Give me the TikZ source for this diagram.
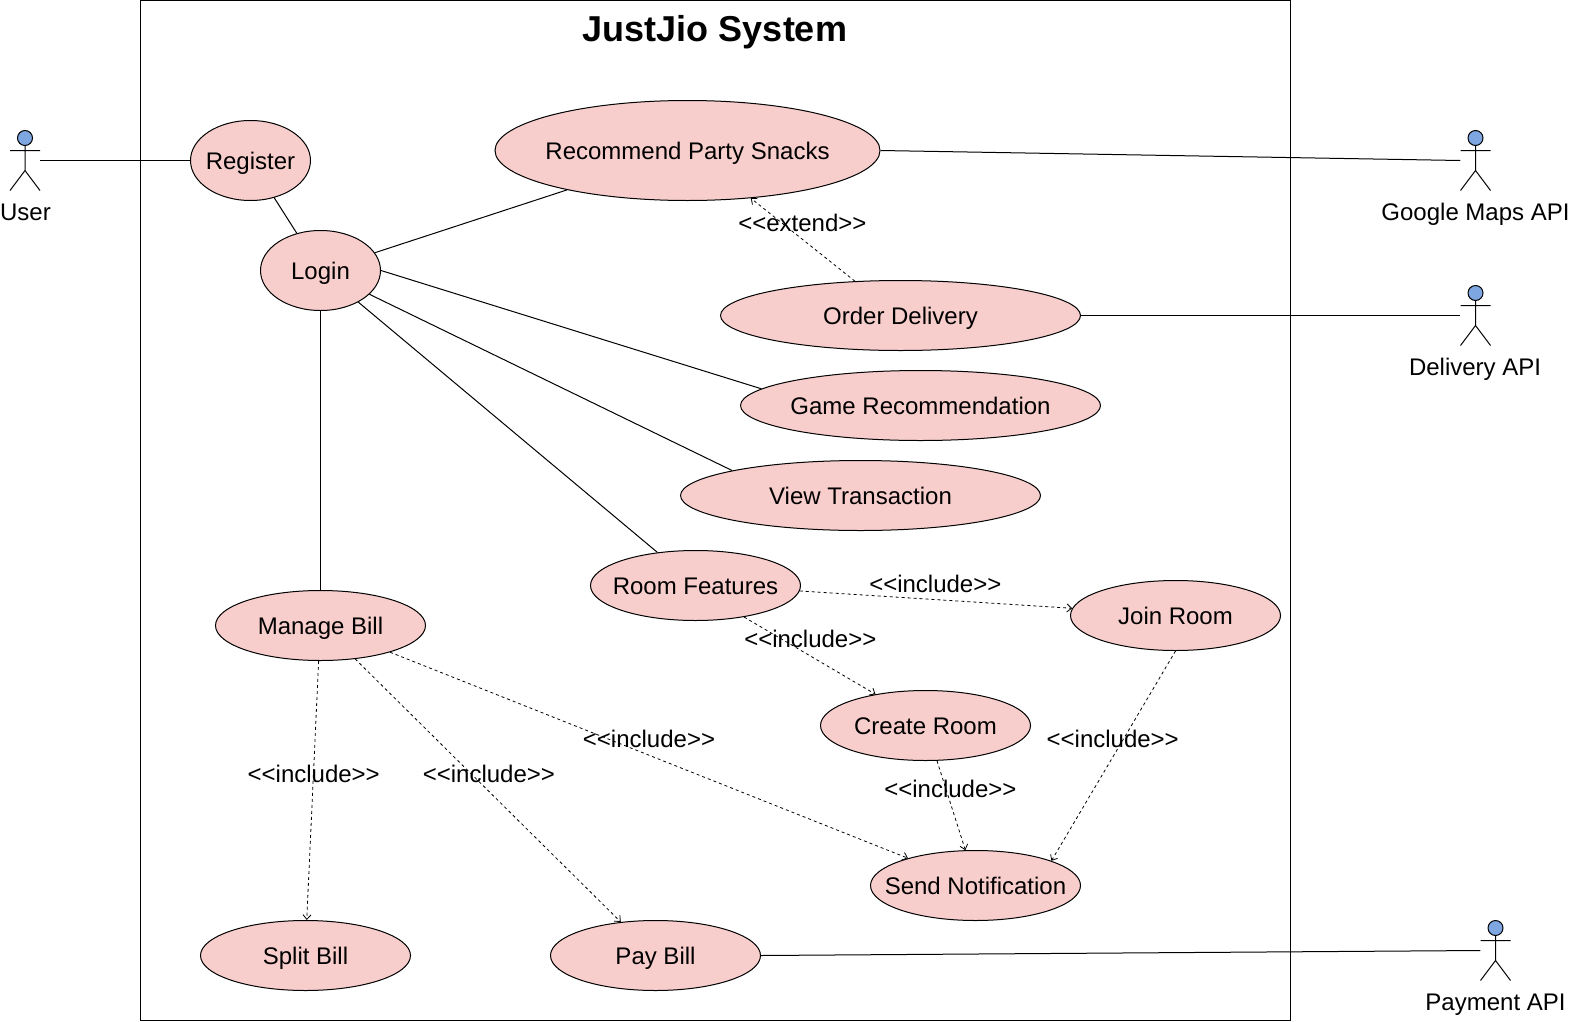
\documentclass[tikz,border=0pt]{standalone}
\usepackage{fontspec}
\setmainfont{Liberation Sans}
\usetikzlibrary{shapes.geometric, arrows.meta}

\definecolor{casefill}{HTML}{F8CECC}
\definecolor{headfill}{HTML}{7EA6E0}

\newcommand{\casetext}[1]{\makebox[0pt]{#1}}
\newcommand{\stereo}[1]{{<}{<}#1{>}{>}}

\tikzset{
    usecase/.style={ellipse, draw=black, fill=casefill, inner sep=0pt, line width=0.75pt,
        text height=13pt, text depth=0pt, font=\fontsize{18}{22}\selectfont},
    smallcase/.style={usecase, minimum width=157.5pt, minimum height=52.5pt},
    widecase/.style={usecase, minimum width=270pt, minimum height=52.5pt},
    logincase/.style={usecase, minimum width=90pt, minimum height=60pt},
    actorbox/.style={rectangle, inner sep=0pt, minimum width=22.5pt, minimum height=45pt},
    plaintext/.style={inner sep=0pt, text height=13pt, text depth=0pt, font=\fontsize{18}{22}\selectfont},
    assoc/.style={line width=0.75pt},
    dep/.style={-{Straight Barb[length=3.5pt,width=6pt]}, line width=0.6pt, dash pattern=on 2.25pt off 2.25pt},
    stick/.pic={
        \draw[line width=0.75pt, fill=headfill] (0,-22.5) circle[radius=7.5];
        \draw[line width=0.75pt] (0,-15) -- (0,10) (-15,-10) -- (15,-10) (-15,30) -- (0,10) -- (15,30);
    }
}

\begin{document}
\begin{tikzpicture}[x=0.75pt, y=-0.75pt]
            \useasboundingbox (0,0) rectangle (1570,1021);

            % System
            \node[draw, line width=0.75pt, inner sep=0pt, minimum width=862.5pt, minimum height=765pt] (system) at (715.5,510.5) {};
            \node[inner sep=0pt, text height=19.5pt, text depth=0pt, font=\fontsize{27}{32}\selectfont\bfseries] (title) at (715,28) {JustJio System};

            % Actors
            \node[actorbox] (user) at (25,160.5) {};
            \node[actorbox] (google) at (1475.5,160.5) {};
            \node[actorbox] (delivery) at (1475.5,315.5) {};
            \node[actorbox] (payment) at (1495.5,950.5) {};
            \pic at (user) {stick};
            \pic at (google) {stick};
            \pic at (delivery) {stick};
            \pic at (payment) {stick};
            \node[plaintext] (userlabel) at (25.5,212) {User};
            \node[plaintext] (googlelabel) at (1475.5,212) {Google Maps API};
            \node[plaintext] (deliverylabel) at (1475,367) {Delivery API};
            \node[plaintext] (paymentlabel) at (1495.5,1002) {Payment API};

            % Use cases
            \node[logincase] (register) at (250.5,160.5) {\casetext{Register}};
            \node[logincase] (login) at (320.5,270.5) {\casetext{Login}};
            \node[usecase, minimum width=288.75pt, minimum height=75pt] (snacks) at (687.5,150.5) {\casetext{Recommend Party Snacks}};
            \node[widecase] (order) at (900.5,315.5) {\casetext{Order Delivery}};
            \node[widecase] (game) at (920.5,405.5) {\casetext{Game Recommendation}};
            \node[widecase] (view) at (860.5,495.5) {\casetext{View Transaction}};
            \node[smallcase] (room) at (695.5,585.5) {\casetext{Room Features}};
            \node[smallcase] (manage) at (320.5,625.5) {\casetext{Manage Bill}};
            \node[smallcase] (join) at (1175.5,615.5) {\casetext{Join Room}};
            \node[smallcase] (create) at (925.5,725.5) {\casetext{Create Room}};
            \node[smallcase] (send) at (975.5,885.5) {\casetext{Send Notification}};
            \node[smallcase] (split) at (305.5,955.5) {\casetext{Split Bill}};
            \node[smallcase] (pay) at (655.5,955.5) {\casetext{Pay Bill}};

            % Associations
            \draw[assoc] (user.east) -- (register.west);
            \draw[assoc] (register) -- (login);
            \draw[assoc] (login) -- (snacks);
            \draw[assoc] (login.east) -- (game.174);
            \draw[assoc] (login) -- (view.169);
            \draw[assoc] (login) -- (room.139);
            \draw[assoc] (login.south) -- (manage.north);
            \draw[assoc] (snacks.east) -- (google.west);
            \draw[assoc] (order.east) -- (delivery.west);
            \draw[assoc] (pay.east) -- (payment.west);

            % Dependencies
            \draw[dep] (order.143) -- (snacks.-37);
            \draw[dep] (room.-3) -- (join.176);
            \draw[dep] (room.-33) -- (create.148);
            \draw[dep] (manage.-93) -- (split.88);
            \draw[dep] (manage.-44) -- (pay.136);
            \draw[dep] (manage.-21) -- (send.158);
            \draw[dep] (create.-72) -- (send.106);
            \draw[dep] (join.south) -- (send.18);

            % Stereotypes
            \node[plaintext] (extendlabel) at (802.4,222.5) {\stereo{extend}};
            \node[plaintext] (joinlabel) at (935.3,583.5) {\stereo{include}};
            \node[plaintext] (createlabel) at (810.3,638.5) {\stereo{include}};
            \node[plaintext] (joinsendlabel) at (1112.7,738.5) {\stereo{include}};
            \node[plaintext] (managesendlabel) at (649,738.5) {\stereo{include}};
            \node[plaintext] (splitlabel) at (313.7,773.5) {\stereo{include}};
            \node[plaintext] (paylabel) at (488.9,773.5) {\stereo{include}};
            \node[plaintext] (createsendlabel) at (950.4,788.5) {\stereo{include}};
        \end{tikzpicture}
\end{document}
